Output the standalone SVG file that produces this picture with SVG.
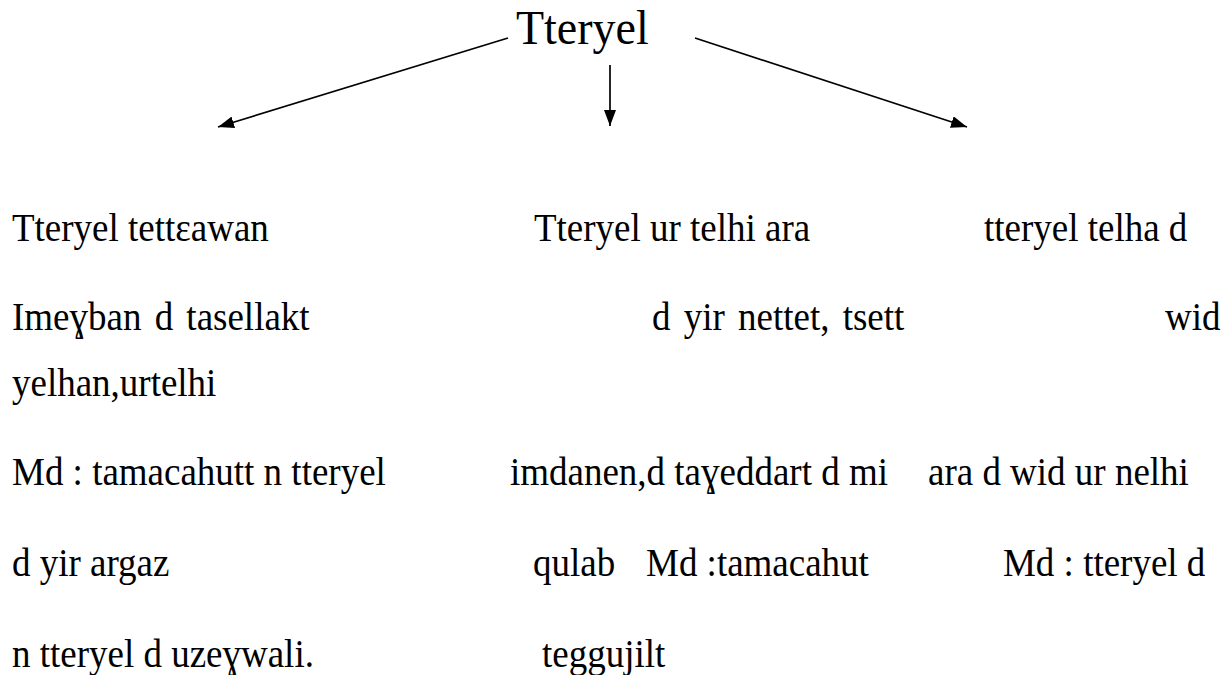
<svg xmlns="http://www.w3.org/2000/svg" width="1232" height="675" viewBox="0 0 1232 675">
<style>
.t{font-family:"Liberation Serif","Times New Roman",serif;font-size:37px;fill:#000}
.title{font-family:"Liberation Serif","Times New Roman",serif;font-size:46px;fill:#000}
.c{stroke:#000;stroke-width:1.7;fill:none}
</style>
<defs>
<marker id="ah2" viewBox="0 0 16 12" refX="16" refY="6" markerWidth="16" markerHeight="12" markerUnits="userSpaceOnUse" orient="auto">
<path d="M0,0 L16,6 L0,12 z" fill="#000"/>
</marker>
</defs>
<rect width="1232" height="675" fill="#fff"/>
<g id="root"><text class="title" x="516" y="44" transform="matrix(1 0 0 1.04 0 -1.76)">Tteryel</text></g>
<g id="connectors">
<line class="c" x1="508" y1="38" x2="218" y2="127" marker-end="url(#ah2)"/>
<line class="c" x1="610" y1="65" x2="610" y2="126" marker-end="url(#ah2)"/>
<line class="c" x1="695" y1="38" x2="967" y2="127" marker-end="url(#ah2)"/>
</g>
<g id="col1">
<text class="t" x="12" y="241" transform="matrix(1 0 0 1.06 0 -14.46)">Tteryel tettεawan</text>
<text class="t" x="12" y="330" word-spacing="4" transform="matrix(1 0 0 1.06 0 -19.8)">Imeɣban d tasellakt</text>
<text class="t" x="12" y="396" transform="matrix(1 0 0 1.06 0 -23.76)">yelhan,urtelhi</text>
<text class="t" x="12" y="485" transform="matrix(1 0 0 1.06 0 -29.1)">Md : tamacahutt n tteryel</text>
<text class="t" x="12" y="576" transform="matrix(1 0 0 1.06 0 -34.56)">d yir argaz</text>
<text class="t" x="12" y="667" transform="matrix(1 0 0 1.06 0 -40.02)">n tteryel d uzeɣwali.</text>
</g>
<g id="col2">
<text class="t" x="534" y="241" transform="matrix(1 0 0 1.06 0 -14.46)">Tteryel ur telhi ara</text>
<text class="t" x="652" y="330" word-spacing="4" transform="matrix(1 0 0 1.06 0 -19.8)">d yir nettet, tsett</text>
<text class="t" x="510" y="485" transform="matrix(1 0 0 1.06 0 -29.1)">imdanen,d taɣeddart d mi</text>
<text class="t" x="533" y="576" transform="matrix(1 0 0 1.06 0 -34.56)">qulab</text>
<text class="t" x="646" y="576" transform="matrix(1 0 0 1.06 0 -34.56)">Md :tamacahut</text>
<text class="t" x="542" y="667" transform="matrix(1 0 0 1.06 0 -40.02)">teggujilt</text>
</g>
<g id="col3">
<text class="t" x="984" y="241" transform="matrix(1 0 0 1.06 0 -14.46)">tteryel telha d</text>
<text class="t" x="1165" y="330" transform="matrix(1 0 0 1.06 0 -19.8)">wid</text>
<text class="t" x="928" y="485" transform="matrix(1 0 0 1.06 0 -29.1)">ara d wid ur nelhi</text>
<text class="t" x="1003" y="576" transform="matrix(1 0 0 1.06 0 -34.56)">Md : tteryel d</text>
</g>
</svg>
